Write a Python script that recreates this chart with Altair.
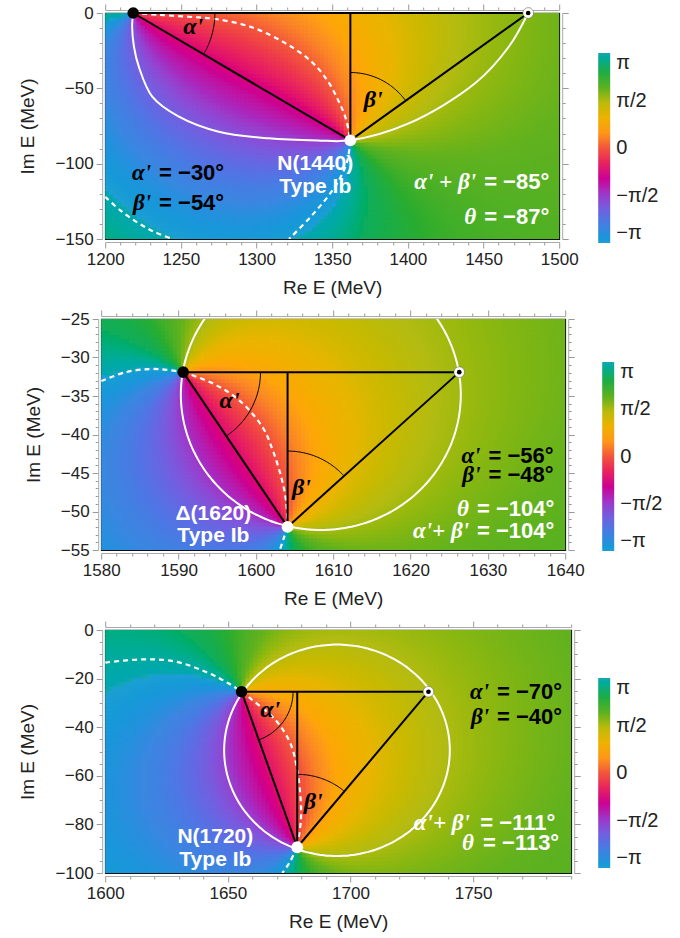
import numpy as np
import pandas as pd
import altair as alt

PI = np.pi

# ---------------- panel frames ----------------
X_DOMAINS = [[1200, 1500], [1580, 1640], [1600, 1790]]
Y_DOMAINS = [[-150, 0], [-55, -25], [-100, 0]]
X_TICKS = [[1200, 1250, 1300, 1350, 1400, 1450, 1500],
           [1580, 1590, 1600, 1610, 1620, 1630, 1640],
           [1600, 1650, 1700, 1750]]
Y_TICKS = [[0, -50, -100, -150],
           [-25, -30, -35, -40, -45, -50, -55],
           [0, -20, -40, -60, -80, -100]]
X_MAJOR = [50, 10, 50]
X_MINOR = [10, 2, 10]
Y_MAJOR = [50, 5, 20]
Y_MINOR = [10, 1, 5]
PANEL_W = [454, 464, 466]
PANEL_H = [226, 231, 243]
LEG_X = [493, 501, 493]
LEG_Y = [40, 43, 48]
LEG_LEN = [190, 189, 190]

# ---------------- zeros (black), poles (white), mirror points ----------------
ZERO_RE = [1218.5, 1590.6, 1655.6]
ZERO_IM = [0.0, -31.9, -25.4]
POLE_RE = [1362.0, 1604.1, 1678.3]
POLE_IM = [-84.5, -52.0, -89.4]
MIRROR_RE = [1479.5, 1626.3, 1731.8]
PHASE_OFFSET = [2.44, 2.40, 2.45]
THRESHOLD_RE = [1000.0, 1000.0, 1000.0]
THRESHOLD_POWER = [1, 0, 0]

# angle-arc radii (MeV)
ALPHA_R = [54.0, 10.0, 21.0]
BETA_R = [45.0, 9.85, 30.0]

# solid white curve, panel 1 (read points)
CURVE1_RE = [1218.5, 1217.8, 1219.0, 1222.2, 1231.1, 1248.7, 1275.0, 1308.0, 1340.0, 1362.0,
             1400.5, 1444.6, 1466.7, 1479.5]
CURVE1_IM = [0.0, -9.0, -22.4, -35.6, -55.5, -68.8, -78.8, -83.2, -84.6, -84.5,
             -73.3, -46.5, -22.4, 0.0]
# circles of panels 2 and 3: centre re, centre im, radius re, radius im
CIRCLE2 = [1608.4, -34.8, 18.1, 17.6]
CIRCLE3 = [1694.5, -49.5, 46.0, 43.5]

# dashed white curves (lists of segments)
DASH_RE = [
    [[1218.5, 1235, 1255, 1273, 1297, 1319, 1336, 1347, 1354, 1359, 1362],
     [1362, 1360, 1355, 1347, 1336, 1321.5],
     [1200, 1210, 1222, 1233, 1244.5]],
    [[1580, 1583.2, 1586.2, 1588.5, 1590.6],
     [1590.6, 1594.5, 1597.9, 1600.9, 1602.2, 1603.3, 1603.9, 1604.1],
     [1604.1, 1603.6, 1603.1]],
    [[1600, 1615, 1628.7, 1642.3, 1650, 1655.6],
     [1655.6, 1660, 1669.4, 1675.5, 1678, 1679.5, 1679.8, 1678.3],
     [1678.3, 1675, 1672.2]],
]
DASH_IM = [
    [[0, -1.2, -2.5, -4, -9.5, -20, -32, -45, -58, -70, -84.5],
     [-84.5, -98, -110, -122, -135, -150],
     [-122, -131, -139.5, -145.5, -150]],
    [[-33.05, -31.9, -31.5, -31.6, -31.9],
     [-31.9, -33.4, -35.6, -39.1, -42.1, -45.6, -48.6, -52.0],
     [-52.0, -53.5, -55]],
    [[-13.4, -12.1, -13.0, -17.8, -21.8, -25.4],
     [-25.4, -28.8, -37, -46.6, -56, -67, -78, -89.4],
     [-89.4, -96, -100]],
]

# angle labels inside the plots
ANG_TEXT = ["α'", "β'"]
ANG_RE = [[1258.2, 1377.1], [1596.6, 1605.9], [1667.3, 1684.8]]
ANG_IM = [[-9.3, -57.7], [-35.6, -46.9], [-32.9, -70.8]]

# resonance names
NAME_TEXT = [["N(1440)", "Type Ib"], ["Δ(1620)", "Type Ib"], ["N(1720)", "Type Ib"]]
NAME_RE = [1338.8, 1594.5, 1644.9]
NAME_IM = [[-100.2, -115.5], [-50.3, -53.2], [-85.2, -94.7]]

# annotations: greek part + value part (value right edge given)
NOTE_GREEK = [["α'", "β'", "α' + β'", "θ"], ["α'", "β'", "θ", "α'+ β'"], ["α'", "β'", "α'+ β'", "θ"]]
NOTE_VALUE = [["= −30°", "= −54°", "= −85°", "= −87°"],
              ["= −56°", "= −48°", "= −104°", "= −104°"],
              ["= −70°", "= −40°", "= −111°", "= −113°"]]
NOTE_COLOR = [["black", "black", "white", "white"],
              ["black", "black", "white", "white"],
              ["black", "black", "white", "white"]]
NOTE_VALUE_RE = [[1278.6, 1278.6, 1493.4, 1493.4], [1638.5, 1638.5, 1638.6, 1638.6], [1786.3, 1786.3, 1783.5, 1785.1]]
NOTE_IM = [[-106.4, -126.3, -112.0, -135.2], [-42.8, -45.2, -49.7, -52.5], [-25.4, -35.7, -79.6, -87.5]]

# cyclic phase colour map (stops in units of pi)
PHASE_STOPS = [-1.0, -0.85, -0.7, -0.55, -0.45, -0.35, -0.22, -0.08, 0.0, 0.1, 0.2, 0.35, 0.5, 0.62, 0.75, 0.87, 1.0]
PHASE_COLORS = ["#1c9fd3", "#3b86e0", "#5f6be3", "#8b4bd6", "#a72ac0", "#c1109e", "#e0106e", "#ee3a4a",
                "#f2553c", "#fa8426", "#ffa50a", "#e8b500", "#b3bb12", "#62b21e", "#2aad2e", "#10ad5c", "#18a6b2"]

CELL_PX = 4.0
SANS = "Liberation Sans"
SERIF = "Liberation Serif"
VALUE_FS = 22
GAP_PX = 8
# Liberation Sans Bold advance widths (em)
CHAR_W = {"=": 0.584, " ": 0.278, "−": 0.584, "°": 0.4}


def text_px(s, fs):
    return sum(CHAR_W.get(ch, 0.556) for ch in s) * fs


def phase_grid(i):
    x0, x1 = X_DOMAINS[i]
    y0, y1 = Y_DOMAINS[i]
    nx = int(round(PANEL_W[i] / CELL_PX))
    ny = int(round(PANEL_H[i] / CELL_PX))
    xs = x0 + (np.arange(nx) + 0.5) * (x1 - x0) / nx
    ys = y0 + (np.arange(ny) + 0.5) * (y1 - y0) / ny
    X, Y = np.meshgrid(xs, ys)
    E = X + 1j * Y
    z = complex(ZERO_RE[i], ZERO_IM[i])
    p = complex(POLE_RE[i], POLE_IM[i])
    f = np.exp(1j * PHASE_OFFSET[i]) * (E - z) / (E - p) * (E - THRESHOLD_RE[i]) ** THRESHOLD_POWER[i]
    ph = np.angle(f)
    df = pd.DataFrame({"re": X.ravel().round(3), "im": Y.ravel().round(3), "phase": ph.ravel().round(3)})
    return df, PANEL_W[i] / nx + 0.8, PANEL_H[i] / ny + 0.8


def circle_df(i):
    if i == 0:
        return pd.DataFrame({"re": CURVE1_RE, "im": CURVE1_IM, "k": range(len(CURVE1_RE))})
    c = CIRCLE2 if i == 1 else CIRCLE3
    t = np.linspace(0, 2 * PI, 241)
    return pd.DataFrame({"re": c[0] + c[2] * np.cos(t), "im": c[1] + c[3] * np.sin(t), "k": range(len(t))})


def arcs_df(i):
    ax, ay = ZERO_RE[i], ZERO_IM[i]
    bx, by = POLE_RE[i], POLE_IM[i]
    cx = MIRROR_RE[i]
    a1 = np.arctan2(by - ay, bx - ax)
    b1 = np.arctan2(ay - by, cx - bx)
    rows = []
    for t in np.linspace(0, a1, 40):
        rows.append({"re": ax + ALPHA_R[i] * np.cos(t), "im": ay + ALPHA_R[i] * np.sin(t), "g": "a", "k": len(rows)})
    for t in np.linspace(PI / 2, b1, 40):
        rows.append({"re": bx + BETA_R[i] * np.cos(t), "im": by + BETA_R[i] * np.sin(t), "g": "b", "k": len(rows)})
    return pd.DataFrame(rows)


def make_axis(i, which, orient, labels):
    if which == "x":
        lo, hi = sorted(X_DOMAINS[i])
        major, minor, title = X_MAJOR[i], X_MINOR[i], "Re E (MeV)"
    else:
        lo, hi = sorted(Y_DOMAINS[i])
        major, minor, title = Y_MAJOR[i], Y_MINOR[i], "Im E (MeV)"
    start = int(np.ceil(lo / minor) * minor)
    vals = [int(v) for v in np.arange(start, hi + 0.001, minor)]
    test = f"datum.value % {major} == 0"
    kw = dict(values=vals, orient=orient, offset=3, labelFlush=False,
              tickSize=alt.condition(test, alt.value(6), alt.value(3)))
    if labels:
        kw.update(format="d", title=title, labelExpr=f"{test} ? datum.label : ''", labelOverlap=False)
    else:
        kw.update(labels=False, title=None)
    return alt.Axis(**kw)


def panel(i):
    xs = alt.Scale(domain=X_DOMAINS[i], nice=False, zero=False)
    ys = alt.Scale(domain=Y_DOMAINS[i], nice=False, zero=False)
    px_per_re = PANEL_W[i] / (X_DOMAINS[i][1] - X_DOMAINS[i][0])

    def X(f="re", axis=None):
        return alt.X(f, type="quantitative", scale=xs, axis=axis)

    def Y(f="im", axis=None):
        return alt.Y(f, type="quantitative", scale=ys, axis=axis)

    grid, cw, ch = phase_grid(i)
    legend = alt.Legend(orient="none", legendX=LEG_X[i], legendY=LEG_Y[i], direction="vertical",
                        gradientLength=LEG_LEN[i], gradientThickness=12,
                        values=[-PI, -PI / 2, 0.0, PI / 2, PI],
                        labelExpr="datum.value > 3 ? 'π' : datum.value > 1 ? 'π/2' : datum.value > -1 ? '0' : datum.value > -3 ? '−π/2' : '−π'",
                        labelFontSize=20, labelFont=SANS, labelColor="#222", labelOffset=6,
                        labelOverlap=False, gradientStrokeWidth=0)
    heat = alt.Chart(grid).mark_rect(width=cw, height=ch, clip=True, strokeWidth=0).encode(
        x=X(axis=make_axis(i, "x", "bottom", True)), y=Y(axis=make_axis(i, "y", "left", True)),
        color=alt.Color("phase:Q", title=None,
                        scale=alt.Scale(domain=[s * PI for s in PHASE_STOPS], range=PHASE_COLORS),
                        legend=legend),
    )
    frame = alt.Chart(pd.DataFrame({"re": [X_DOMAINS[i][0]], "im": [Y_DOMAINS[i][0]]})).mark_point(opacity=0).encode(
        x=X(axis=make_axis(i, "x", "top", False)), y=Y(axis=make_axis(i, "y", "right", False)))

    circ = alt.Chart(circle_df(i)).mark_line(color="white", strokeWidth=2, clip=True,
                                             interpolate="catmull-rom").encode(
        x=X(), y=Y(), order="k:Q")

    drows = []
    for s, (rr, ii) in enumerate(zip(DASH_RE[i], DASH_IM[i])):
        for k, (r, m) in enumerate(zip(rr, ii)):
            drows.append({"re": r, "im": m, "seg": s, "k": k})
    dash = alt.Chart(pd.DataFrame(drows)).mark_line(color="white", strokeWidth=2.2, strokeDash=[5, 4],
                                                     clip=True, interpolate="catmull-rom").encode(
        x=X(), y=Y(), detail="seg:N", order="k:Q")

    ax, ay = ZERO_RE[i], ZERO_IM[i]
    bx, by = POLE_RE[i], POLE_IM[i]
    cx = MIRROR_RE[i]
    segs = pd.DataFrame({"re": [ax, bx, ax, bx], "im": [ay, ay, ay, by],
                         "re2": [cx, bx, bx, cx], "im2": [ay, by, by, ay]})
    lines = alt.Chart(segs).mark_rule(color="black", strokeWidth=2).encode(
        x=X(), y=Y(), x2="re2:Q", y2="im2:Q")

    arcs = alt.Chart(arcs_df(i)).mark_line(color="black", strokeWidth=1).encode(
        x=X(), y=Y(), detail="g:N", order="k:Q")

    pz = alt.Chart(pd.DataFrame({"re": [ax], "im": [ay]})).mark_circle(color="black", size=135, opacity=1).encode(x=X(), y=Y())
    pp = alt.Chart(pd.DataFrame({"re": [bx], "im": [by]})).mark_circle(color="white", size=140, opacity=1).encode(x=X(), y=Y())
    pc = alt.Chart(pd.DataFrame({"re": [cx], "im": [ay]})).mark_circle(color="white", size=115, opacity=1,
                                                                      stroke="#555", strokeWidth=0.5).encode(x=X(), y=Y())
    pc2 = alt.Chart(pd.DataFrame({"re": [cx], "im": [ay]})).mark_circle(color="black", size=22, opacity=1).encode(x=X(), y=Y())

    ang = alt.Chart(pd.DataFrame({"re": ANG_RE[i], "im": ANG_IM[i], "t": ANG_TEXT})).mark_text(
        font=SERIF, fontSize=24, fontStyle="italic", fontWeight="bold", color="black",
        align="center", baseline="middle").encode(x=X(), y=Y(), text="t:N")

    names = alt.Chart(pd.DataFrame({"re": [NAME_RE[i]] * 2, "im": NAME_IM[i], "t": NAME_TEXT[i]})).mark_text(
        font=SANS, fontSize=21, fontWeight="bold", color="white",
        align="center", baseline="middle").encode(x=X(), y=Y(), text="t:N")

    gre = [v - (text_px(s, VALUE_FS) + GAP_PX) / px_per_re for v, s in zip(NOTE_VALUE_RE[i], NOTE_VALUE[i])]
    notes = pd.DataFrame({"g": NOTE_GREEK[i], "v": NOTE_VALUE[i], "col": NOTE_COLOR[i],
                          "gre": gre, "vre": NOTE_VALUE_RE[i], "im": NOTE_IM[i]})
    note_layers = []
    for col in ["black", "white"]:
        sub = notes[notes["col"] == col]
        note_layers.append(alt.Chart(sub).mark_text(
            font=SERIF, fontSize=23, fontStyle="italic", fontWeight="bold", color=col,
            align="right", baseline="middle").encode(x=X("gre"), y=Y(), text="g:N"))
        note_layers.append(alt.Chart(sub).mark_text(
            font=SANS, fontSize=VALUE_FS, fontWeight="bold", color=col,
            align="right", baseline="middle").encode(x=X("vre"), y=Y(), text="v:N"))

    return alt.layer(heat, frame, circ, dash, lines, arcs, pz, pp, pc, pc2, ang, names, *note_layers).properties(
        width=PANEL_W[i], height=PANEL_H[i]).resolve_axis(x="independent", y="independent")


chart = alt.vconcat(panel(0), panel(1), panel(2), spacing=10, center=True).resolve_scale(
    x="independent", y="independent", color="independent").resolve_legend(color="independent").properties(
    padding={"left": 18, "top": 2, "right": 5, "bottom": 2}
).configure_view(stroke="#111", strokeWidth=1.2).configure_axis(
    labelFont=SANS, labelFontSize=17, labelColor="#222", titleFont=SANS, titleFontSize=19,
    titleFontWeight="normal", titleColor="#222", tickColor="#999", domainColor="#aaa",
    grid=False, labelPadding=3
).configure_axisX(titlePadding=11).configure_axisY(titlePadding=17)

chart.save("out.html", embed_options={"renderer": "svg", "actions": False})
